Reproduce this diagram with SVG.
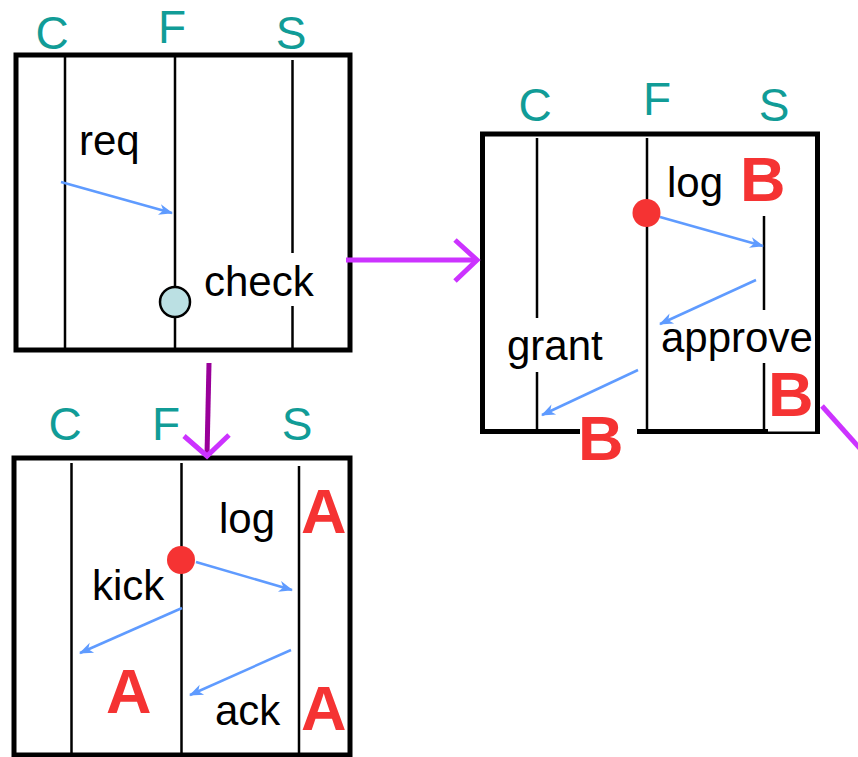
<svg xmlns="http://www.w3.org/2000/svg" width="858" height="757" viewBox="0 0 858 757">
  <style>
    .frame { fill: none; stroke: #000; stroke-width: 5; }
    .life { stroke: #000; stroke-width: 2.5; }
    .msg { stroke: #5f9bff; stroke-width: 2.5; fill: none; marker-end: url(#head); }
    .hdr { font-family: "Liberation Sans", Arial, sans-serif; font-size: 46px; fill: #119c97; text-anchor: middle; }
    .lbl { font-family: "Liberation Sans", Arial, sans-serif; font-size: 42px; fill: #000; }
    .tag { font-family: "Liberation Sans", Arial, sans-serif; font-size: 63px; font-weight: bold; fill: #f53333; }
    .blank { fill: #fff; }
    .link { stroke: #cc33ff; stroke-width: 5; fill: none; }
    .dot { fill: #f53333; }
  </style>
  <defs>
    <marker id="head" markerUnits="userSpaceOnUse" markerWidth="20" markerHeight="20" refX="0" refY="0" orient="auto" overflow="visible">
      <path d="M1,0 L-13,-5.5 L-9,0 L-13,5.5 z" fill="#5f9bff"/>
    </marker>
  </defs>
  <rect width="858" height="757" fill="#fff"/>

  <!-- panel 1: req / check -->
  <g id="panel-check">
    <text class="hdr" x="52" y="49">C</text>
    <text class="hdr" x="172" y="43">F</text>
    <text class="hdr" x="291" y="49">S</text>
    <line class="life" x1="65" y1="57" x2="65" y2="350"/>
    <line class="life" x1="175" y1="57" x2="175" y2="350"/>
    <line class="life" x1="292.5" y1="60" x2="292.5" y2="350"/>
    <rect class="frame" x="16" y="55" width="334" height="295"/>
    <rect class="blank" x="198" y="253" width="120" height="53"/>
    <text class="lbl" x="79" y="155">req</text>
    <text class="lbl" x="204" y="296">check</text>
    <line class="msg" x1="61" y1="182" x2="172" y2="213"/>
    <circle cx="175" cy="302" r="15" fill="#bbe0e3" stroke="#000" stroke-width="2.5"/>
  </g>

  <!-- panel 2: log / approve / grant -->
  <g id="panel-grant">
    <text class="hdr" x="535" y="121">C</text>
    <text class="hdr" x="657" y="115">F</text>
    <text class="hdr" x="774" y="121">S</text>
    <line class="life" x1="537" y1="138" x2="537" y2="431"/>
    <line class="life" x1="647" y1="138" x2="647" y2="431"/>
    <line class="life" x1="764" y1="216" x2="764" y2="431"/>
    <rect class="frame" x="482.5" y="134" width="335" height="297.5"/>
    <rect class="blank" x="503" y="318" width="104" height="54"/>
    <rect class="blank" x="657" y="310" width="158" height="53"/>
    <rect class="blank" x="768" y="363" width="47" height="68.5"/>
    <rect class="blank" x="580" y="405" width="57" height="32"/>
    <text class="lbl" x="667" y="197">log</text>
    <text class="lbl" x="507" y="360">grant</text>
    <text class="lbl" x="661" y="352">approve</text>
    <text class="tag" x="740" y="201">B</text>
    <text class="tag" x="768" y="416">B</text>
    <text class="tag" x="578" y="460">B</text>
    <line class="msg" x1="660" y1="217" x2="763" y2="246"/>
    <line class="msg" x1="756" y1="280" x2="660" y2="324"/>
    <line class="msg" x1="638" y1="370" x2="542" y2="415"/>
    <circle class="dot" cx="646.5" cy="213" r="14"/>
  </g>

  <!-- panel 3: log / kick / ack -->
  <g id="panel-ack">
    <text class="hdr" x="65" y="440">C</text>
    <text class="hdr" x="166" y="440">F</text>
    <text class="hdr" x="297" y="440">S</text>
    <line class="life" x1="71.5" y1="463" x2="71.5" y2="755"/>
    <line class="life" x1="181.5" y1="463" x2="181.5" y2="755"/>
    <line class="life" x1="299" y1="466" x2="299" y2="755"/>
    <rect class="frame" x="14" y="458" width="336" height="297"/>
    <text class="lbl" x="219" y="533">log</text>
    <text class="lbl" x="92" y="600">kick</text>
    <text class="lbl" x="215" y="725">ack</text>
    <text class="tag" x="301" y="533">A</text>
    <text class="tag" x="106" y="713">A</text>
    <text class="tag" x="301" y="730">A</text>
    <line class="msg" x1="196" y1="562" x2="292" y2="590"/>
    <line class="msg" x1="182" y1="608" x2="80" y2="653"/>
    <line class="msg" x1="291" y1="650" x2="190" y2="695"/>
    <circle class="dot" cx="181" cy="560" r="14"/>
  </g>

  <!-- transitions between panels -->
  <g id="connectors">
    <line class="link" x1="346" y1="260" x2="477" y2="260"/>
    <polyline class="link" points="455,240 477,260 455,281"/>
    <line x1="209" y1="363" x2="207" y2="455" stroke="#990099" stroke-width="5"/>
    <polyline class="link" points="184,436 207,456 229,435"/>
    <line class="link" x1="822" y1="406" x2="872" y2="462"/>
  </g>
</svg>
